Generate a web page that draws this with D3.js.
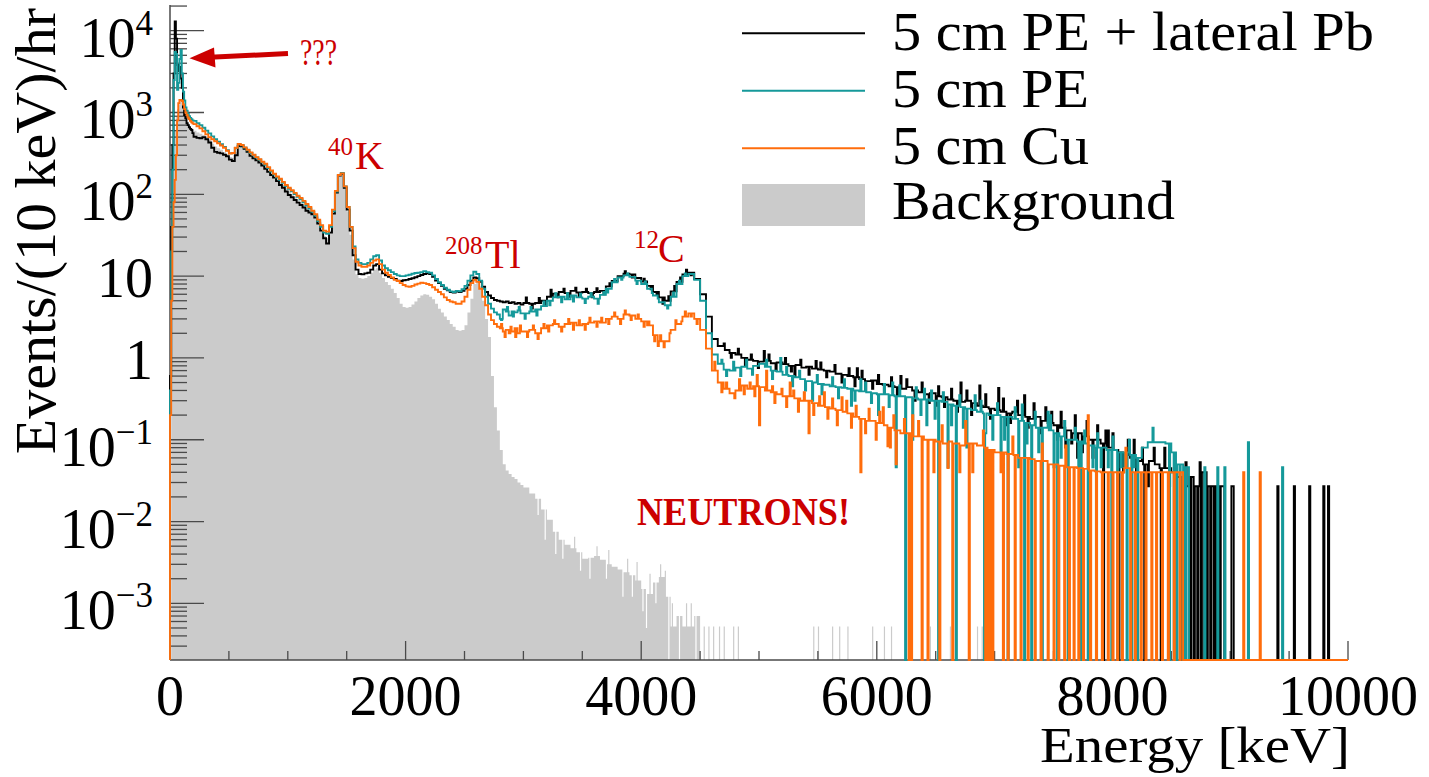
<!DOCTYPE html>
<html><head><meta charset="utf-8">
<script src="https://cdn.jsdelivr.net/npm/d3@7"></script>
<style>html,body{margin:0;padding:0;background:#fff}svg{display:block}</style>
</head><body>
<svg id="c" width="1429" height="777"></svg>
<script>
// ---------------- DATA (events / (10 keV) / hr) ----------------
// low: 10 keV bins from 0 keV; mid: 25 keV bins from 200 keV; high: 50 keV bins from 3000 keV
// bins: single 10 keV bins [energy keV, value] (empty bins, isolated counts, bin-to-bin fluctuations)
const seriesNames = ["5 cm PE + lateral Pb", "5 cm PE", "5 cm Cu", "Background"];
const xTickLabels = ["0", "2000", "4000", "6000", "8000", "10000"];
const yTickValues = [1e4, 1e3, 1e2, 10, 1, 0.1, 0.01, 0.001];
const yTickLabels = [["10","4"],["10","3"],["10","2"],["10",""],["1",""],["10","\u22121"],["10","\u22122"],["10","\u22123"]];

const blackLow = [0.6,40,400,3000,13000,8000,3800,3200,3600,2600,2000,1150,930,850,740,700,660,630,610,560];
const blackMid = [505,490,485,500,470,430,370,330,322,316,305,292,265,255,300,390,385,360,330,295,275,260,245,225,
205,188,172,160,145,130,120,108,98,92,85,79,74,69,63,60,57,52,44,36,29,25,34,58,105,170,178,120,65,36,18,12,
10.6,10.5,10.8,11,12,13.5,14,12,10.8,10.2,9.8,9.5,9.2,8.8,8.7,8.9,9.0,9.2,9.4,9.7,10.0,10.3,10.6,10.8,10.6,9.8,8.8,8.2,7.6,7.0,6.7,6.4,
6.3,6.5,6.4,6.6,7.0,7.8,8.8,9.6,9.4,8.5,7.4,6.4,5.8,5.4,5.1,5.0,4.9,4.8,4.9,4.7,4.8,4.6,4.7,4.5];
const blackHigh = [4.7,4.6,4.7,5.0,5.6,6.1,6.4,6.2,6.6,6.3, 6.4,6.2,6.4,6.6,7.5,8.7,10.0,10.7,10.5,9.5,
8.6,7.6,6.4,5.5,5.0,6.5,8.5,10.5,11.0,9.2, 6.0,3.2,1.7,1.4,1.25,1.15,1.1,1.0,0.95,0.92,
0.9,0.92,0.86,0.88,0.84,0.8,0.82,0.76,0.78,0.74, 0.72,0.7,0.68,0.64,0.62,0.6,0.58,0.55,0.52,0.53,
0.48,0.47,0.45,0.44,0.42,0.44,0.4,0.38,0.36,0.37, 0.34,0.33,0.31,0.3,0.29,0.3,0.28,0.26,0.25,0.24,
0.23,0.22,0.21,0.22,0.2,0.19,0.18,0.19,0.17,0.16, 0.15,0.14,0.13,0.12,0.12,0.11,0.1,0.1,0.09,0.08,
0.075,0.07,0.065,0.06,0.055,0.05,0.055,0.05,0.045,0.045, 0.04,0.035,0.027,0.035,0.027,0.04,0.027,0.027,0.027,0,
0,0,0,0,0,0,0,0,0,0, 0,0,0,0,0,0,0,0,0,0];
const blackBins = [[3020,5.5],[3070,4.0],[3130,5.4],[3180,4.3],[3230,6.8],[3290,5.5],[3340,7.0],[3390,5.6],[3440,7.2],
[3470,5.6],[3530,7.0],[3580,5.5],[3620,7.1],[3680,6.0],[3730,8.2],[3860,11.5],[3920,9.6],[4020,9.3],[4080,6.9],[4130,5.9],
[4180,4.6],[4230,5.7],[4280,7.6],[4330,9.6],[4380,12.0],[4420,10.2],
[4700,1.5],[4760,1.0],[4820,1.3],[4880,0.8],[4930,1.1],[4990,0.75],[5040,1.22],[5080,1.1],[5140,0.7],[5220,1.0],[5270,0.68],
[5300,0.6],[5350,0.95],[5420,0.62],[5480,0.92],[5520,0.88],[5570,0.58],[5640,0.82],[5700,0.5],[5760,0.75],[5810,0.45],
[5830,0.75],[5870,0.7],[5900,0.4],[5960,0.42],[6010,0.62],[6060,0.38],[6120,0.58],[6170,0.35],[6200,0.6],[6250,0.55],
[6320,0.3],[6380,0.5],[6440,0.28],[6500,0.26],[6520,0.45],[6570,0.25],[6630,0.42],[6680,0.22],[6710,0.5],[6760,0.4],
[6800,0.2],[6870,0.46],[6920,0.36],[6960,0.18],[7030,0.43],[7070,0.32],[7100,0.15],[7130,0.16],[7190,0.3],[7250,0.35],
[7280,0.14],[7330,0.28],[7390,0.12],[7430,0.25],[7480,0.22],[7530,0.1],[7560,0.22],[7600,0.08],[7650,0.09],[7680,0.2],
[7700,0.06],[7740,0.07],[7780,0.17],[7830,0.06],[7870,0.15],[7920,0],[7940,0.13],[7960,0.13],[8000,0.12],[8050,0],
[8090,0.04],[8130,0.1],[8180,0.1],[8200,0],[8250,0.08],[8270,0],[8300,0.027],[8350,0.08],[8410,0],[8440,0.08],[8480,0.027],
[8530,0],[8580,0],[8620,0.053],[8660,0],[8690,0],[8720,0],[8740,0.053],[8750,0],[8780,0],[8800,0],[8830,0],[8860,0],
[8880,0],[8910,0],[9010,0.027],[9020,0.027],[9400,0.027],[9540,0.027],[9670,0.027],[9790,0.027],[9830,0.027]];

const tealLow = [0.4,20,200,2500,5500,5200,1900,2300,4500,5800,3000,1800,1400,1150,1050,960,900,860,830,800];
const tealMid = [790,740,700,650,600,555,510,470,440,410,380,345,318,320,368,410,398,372,345,320,300,282,264,246,
230,210,190,174,160,150,138,126,117,109,101,93,87,80,73,67,61,55,47,40,34,33,40,62,108,172,182,125,70,40,23,16,
14.5,14,14,14.5,16,17.5,18,15.5,13.5,12.5,11.8,11.2,10.6,10.2,10.0,10.0,10.2,10.4,10.7,10.9,11.0,11.2,11.5,11.2,
11.0,10.2,9.2,8.4,7.8,7.2,6.8,6.5,6.4,6.6,6.5,6.9,7.6,8.8,10.2,11.3,10.6,8.8,7.0,5.6,4.6,4.0,3.6,3.4,
3.0,3.9,3.7,3.3,3.7,3.6,3.8,3.5];
const tealHigh = [3.5,3.7,3.9,4.3,5.0,5.5,5.6,5.2,5.8,5.5, 5.3,5.6,5.3,5.9,7.0,8.4,9.6,10.2,9.8,8.8,
8.0,7.0,5.8,4.8,4.4,5.6,8.0,10.0,10.6,9.0, 5.0,2.0,1.1,0.85,0.72,0.7,0.76,0.78,0.74,0.8,
0.85,0.78,0.7,0.68,0.62,0.6,0.58,0.55,0.52,0.5, 0.48,0.47,0.45,0.44,0.43,0.42,0.4,0.39,0.38,0.37,
0.36,0.36,0.35,0.34,0.34,0.33,0.32,0.31,0.31,0.3, 0.3,0.29,0.27,0.26,0.25,0.24,0.23,0.22,0.21,0.2,
0.2,0.19,0.19,0.18,0.17,0.16,0.15,0.14,0.14,0.13, 0.12,0.11,0.1,0.1,0.095,0.09,0.085,0.08,0.08,0.075,
0.075,0.07,0.07,0.065,0.06,0.08,0.093,0.093,0.093,0.09, 0.07,0.05,0.046,0,0,0,0,0,0,0,
0,0,0,0,0,0,0,0,0,0, 0,0,0,0,0,0,0,0,0,0];
const tealBins = [[2810,2.9],[2860,4.2],[2910,3.2],[2960,4.2],[3010,3.0],[3060,4.2],[3110,3.3],[3170,4.9],[3220,4.4],
[3270,6.2],[3320,4.8],[3370,6.2],[3420,4.9],[3480,6.1],[3520,4.7],[3570,6.2],[3630,4.6],[3680,6.4],[3710,6.3],[3770,9.2],
[3830,9.0],[3880,10.8],[3960,8.0],[4030,8.6],[4090,6.2],[4140,5.3],[4220,4.0],[4270,6.3],[4320,8.8],[4370,10.8],
[4680,0.95],[4720,0.6],[4780,0.9],[4840,0.6],[4890,0.95],[4940,0.62],[5060,0.95],[5110,0.55],[5180,1.0],[5230,0.78],
[5280,0.45],[5340,0.7],[5390,0.4],[5450,0.3],[5490,0.62],[5530,0.36],[5620,0.58],[5670,0.32],[5720,0.55],[5780,0.26],
[5810,0.3],[5860,0.55],[5900,0.5],[5950,0.28],[6010,0.2],[6060,0.48],[6100,0.25],[6130,0.5],[6160,0.046],[6190,0.46],
[6240,0],[6300,0.1],[6330,0.44],[6370,0.2],[6400,0.42],[6420,0.15],[6460,0.4],[6490,0.18],[6520,0],[6560,0.38],
[6600,0.046],[6630,0.15],[6670,0],[6700,0.35],[6730,0.14],[6760,0.08],[6830,0.35],[6880,0.3],[6910,0],[6920,0.12],
[6980,0.1],[7020,0.28],[7050,0.07],[7080,0.1],[7110,0],[7170,0.25],[7200,0.046],[7230,0.27],[7250,0],[7270,0.09],
[7310,0],[7340,0.22],[7370,0.07],[7400,0],[7450,0.22],[7470,0.2],[7500,0.046],[7530,0],[7560,0.06],[7590,0.17],
[7620,0],[7680,0.14],[7710,0.046],[7730,0],[7760,0.13],[7790,0],[7830,0.046],[7860,0],[7870,0.12],[7900,0.046],
[7960,0.046],[7990,0],[8000,0.11],[8040,0],[8070,0.046],[8100,0.046],[8120,0],[8140,0.1],[8160,0],[8180,0.046],
[8210,0],[8340,0.14],[8480,0],[8520,0],[8540,0],[8570,0],[8600,0],[8620,0],[8780,0.046],[8890,0.046],[8950,0.046],
[9150,0.093],[9440,0.046]];

const orangeLow = [0.2,5,40,80,150,300,800,1300,1420,1420,1380,1250,1100,1000,930,870,830,790,760,740];
const orangeMid = [720,680,640,590,540,500,470,445,420,395,370,340,315,320,370,412,400,375,350,325,305,285,268,250,
236,215,195,178,165,155,142,130,120,112,104,96,90,83,76,70,63,57,49,42,36,35,42,65,110,172,180,125,70,40,22,15,
13.5,13,13,13.5,14.5,15.5,16,14,12,11,10.3,9.6,9.0,8.7,8.2,7.8,7.5,7.4,7.6,7.9,8.1,8.3,8.2,8.0,
7.8,7.3,6.8,6.4,6.0,5.5,5.1,4.9,4.8,4.6,4.6,4.9,5.6,6.8,8.2,9.0,8.5,7.0,5.6,4.4,3.4,2.9,2.6,2.4,
2.3,2.1,2.2,2.0,2.1,2.3,2.0,2.1];
const orangeHigh = [2.1,2.2,2.0,2.3,2.5,2.6,2.4,2.6,2.7,2.5, 2.6,2.7,2.8,2.7,3.0,3.2,3.0,3.4,3.3,3.0,
2.8,2.5,1.9,1.6,1.6,2.2,2.6,3.2,3.5,3.0, 2.2,1.3,0.7,0.5,0.42,0.37,0.4,0.46,0.42,0.45,
0.44,0.4,0.38,0.36,0.34,0.34,0.32,0.3,0.3,0.28, 0.26,0.25,0.24,0.23,0.22,0.21,0.19,0.18,0.17,0.17,
0.16,0.15,0.14,0.13,0.12,0.12,0.11,0.11,0.1,0.1, 0.095,0.09,0.095,0.09,0.085,0.09,0.09,0.085,0.08,0.075,
0.07,0.07,0.067,0.065,0.06,0.06,0.058,0.055,0.055,0.05, 0.05,0.048,0.046,0.046,0.045,0.044,0.042,0.041,0.04,0.04,
0.04,0.04,0.045,0.04,0.04,0.04,0.04,0.04,0.04,0.04, 0.04,0.04,0,0,0,0,0,0,0,0,
0,0,0,0,0,0,0,0,0,0, 0,0,0,0,0,0,0,0,0,0];
const orangeBins = [[2810,2.6],[2840,1.8],[2890,2.4],[2930,1.8],[2970,2.5],[3030,1.8],[3080,2.5],[3120,1.7],[3170,2.6],
[3210,2.1],[3260,2.9],[3320,2.1],[3380,3.0],[3420,2.2],[3470,2.9],[3520,2.2],[3560,3.1],[3620,2.4],[3660,3.1],[3720,2.6],
[3770,3.6],[3820,2.6],[3860,3.8],[3910,2.9],[3970,3.4],[4020,2.4],[4060,2.8],[4110,1.6],[4140,1.4],[4160,1.9],[4190,1.35],
[4240,2.0],[4290,2.9],[4340,2.8],[4370,3.7],[4420,3.2],[4470,2.6],
[4620,0.9],[4680,0.38],[4720,0.5],[4790,0.32],[4830,0.55],[4870,0.36],[4920,0.5],[4960,0.34],[4980,0.62],[5000,0.15],
[5060,0.7],[5110,0.45],[5130,0.28],[5190,0.42],[5230,0.25],[5260,0.5],[5290,0.4],[5330,0.22],[5380,0.38],[5420,0.12],
[5460,0.2],[5510,0.34],[5550,0.38],[5580,0.18],[5620,0.32],[5660,0.15],[5700,0.33],[5740,0.3],[5780,0.14],[5820,0.26],
[5860,0.04],[5900,0.12],[5930,0.24],[5990,0.1],[6020,0.22],[6050,0.25],[6090,0.083],[6110,0.08],[6140,0.2],[6160,0.05],
[6230,0.18],[6270,0],[6290,0],[6300,0.2],[6350,0.17],[6380,0],[6430,0],[6480,0.04],[6530,0],
[6550,0.15],[6600,0.045],[6640,0],[6700,0.04],[6750,0.17],[6780,0],[6810,0.04],
[6900,0.13],[6920,0],[6940,0],[6960,0],[6980,0],[7050,0.04],[7070,0],[7110,0],[7150,0.11],
[7170,0],[7220,0],[7280,0],[7340,0],[7390,0],[7400,0.09],[7450,0],[7500,0],[7540,0],[7590,0],[7600,0.085],[7630,0],
[7670,0],[7710,0],[7750,0],[7790,0.2],[7810,0],[7860,0],[7910,0],[7960,0],[8000,0],[8040,0],[8080,0],[8110,0.08],
[8150,0],[8190,0],[8240,0],[8280,0],[8330,0],[8370,0],[8420,0],[8470,0],[8520,0],[8570,0],[9110,0.04],[9250,0.04]];

const grayLow = [0,10,80,300,600,900,1100,1250,1350,1400,1350,1200,1000,880,800,740,700,660,640,610];
const grayMid = [600,570,550,530,500,460,415,385,365,350,330,310,285,280,330,395,390,365,337,308,288,270,254,236,
218,200,182,168,154,142,130,118,108,100,93,86,80,74,68,64,59,53,45,37,31,29,36,60,106,170,178,120,62,32,16,10.5,
9.5,9.3,9.5,10,11,12,12.5,11,9.5,8.5,7.8,7.0,6.2,5.4,4.6,4.2,4.1,4.2,4.5,4.9,5.4,5.8,6.0,5.9,
5.6,5.2,4.6,4.0,3.6,3.2,2.9,2.6,2.4,2.2,2.15,2.2,2.5,3.6,5.3,8.0,9.2,7.5,5.0,3.0,1.8,0.6,0.25,0.13,
0.075,0.05,0.042,0.038,0.035,0.033,0.03,0.028];
const grayHigh = [0.026,0.022,0.019,0.014,0.0105,0.0075,0.006,0.0052,0.0047,0.0042,
0.0035,0.0036,0.0038,0.0034,0.003,0.0028,0.0026,0.0024,0.0022,0.0019,
0.0015,0.0013,0.0018,0.0021,0.0012,0.00052,0.0007,0.00052,0.00052,0.0007,
0,0,0,0,0,0,0,0,0,0, 0,0,0,0,0,0,0,0,0,0, 0,0,0,0,0,0,0,0,0,0, 0,0,0,0,0,0,0,0,0,0,
0,0,0,0,0,0,0,0,0,0, 0,0,0,0,0,0,0,0,0,0, 0,0,0,0,0,0,0,0,0,0, 0,0,0,0,0,0,0,0,0,0,
0,0,0,0,0,0,0,0,0,0, 0,0,0,0,0,0,0,0,0,0, 0,0,0,0,0,0,0,0,0,0];
const grayBins = [[3120,0.012],[3180,0.006],[3270,0.004],[3330,0.0035],[3430,0.0065],[3480,0.0025],[3560,0.002],
[3620,0.005],[3700,0.002],[3720,0.0045],[3840,0.0012],[3880,0.0035],[3920,0.0012],[3960,0.0032],[4010,0.0008],
[4040,0.0005],[4070,0.0023],[4120,0.001],[4160,0.003],[4200,0.0025],[4230,0],[4260,0.001],[4320,0],[4380,0.001],
[4420,0.001],[4460,0],[4530,0.00052],[4570,0.00052],[4610,0.00052],[4660,0.00052],[4700,0.00052],[4780,0.00052],
[4820,0.00052],[5460,0.00052],[5500,0.00052],[5620,0.00052],[5680,0.00052],[5750,0.00052],[5960,0.00052],[6060,0.00052],
[6120,0.00052],[6450,0.00052],[6620,0.00052],[6850,0.00052],[6890,0.00052],[7070,0.00052]];

// ---------------- CHART ----------------
const svg = d3.select("#c");
const x = d3.scaleLinear().domain([0, 10000]).range([170, 1348]);
const yMin = 2.03e-4, yMax = 2.06e4;
const y = d3.scaleLog().domain([yMin, yMax]).range([660, 5]);
const y0 = y(yMin);
const yv = d => (d > 0 ? y(Math.max(d, yMin)) : y0);

function expand(low, mid, high, bins) {
  const cell = 5, n = 10000 / cell;
  const v = new Array(n).fill(0);
  const put = (start, width, arr) => arr.forEach((d, i) => {
    const a = (start + i * width) / cell;
    for (let k = 0; k < width / cell; k++) if (a + k < n) v[a + k] = d;
  });
  put(0, 10, low); put(200, 25, mid); put(3000, 50, high);
  bins.forEach(([e, d]) => { const a = e / cell; v[a] = d; if (a + 1 < n) v[a + 1] = d; });
  const pts = [];
  v.forEach((d, i) => { if (!pts.length || pts[pts.length - 1].v !== d) pts.push({ e: i * cell, v: d }); });
  return pts;
}

const serif = "'Liberation Serif','Times New Roman',serif";
const colors = { black: "#000000", teal: "#15999a", orange: "#ff6d0c", gray: "#cbcbcb", red: "#cc0000" };

// background (filled)
const gPts = expand(grayLow, grayMid, grayHigh, grayBins);
const gArea = d3.area().curve(d3.curveStepAfter).x(d => x(d.e)).y0(y0).y1(d => yv(d.v));
svg.append("path").attr("d", gArea([...gPts, { e: 10000, v: gPts[gPts.length - 1].v }]))
  .attr("fill", colors.gray).attr("stroke", "none");

// axes
const axisG = svg.append("g").attr("stroke", "#4a4a4a");
axisG.append("line").attr("x1", 170).attr("x2", 170).attr("y1", 5).attr("y2", y0).attr("stroke-width", 1.5);
axisG.append("line").attr("x1", 170).attr("x2", 1348).attr("y1", y0).attr("y2", y0).attr("stroke-width", 1.5);
for (let k = -4; k <= 4; k++) {
  for (let m = 1; m <= 9; m++) {
    const val = m * Math.pow(10, k);
    if (val < yMin || val > yMax) continue;
    const yy = y(val);
    axisG.append("line").attr("x1", 170).attr("x2", 170 + (m === 1 ? 34 : 17))
      .attr("y1", yy).attr("y2", yy).attr("stroke-width", 1.3);
  }
}
for (let e = 0; e <= 10000; e += 500) {
  const xx = x(e), major = e % 2000 === 0;
  axisG.append("line").attr("x1", xx).attr("x2", xx).attr("y1", y0).attr("y2", y0 - (major ? 19 : 9)).attr("stroke-width", 1.3);
}

// lines
const line = d3.line().curve(d3.curveStepAfter).x(d => x(d.e)).y(d => (d.v === null ? y0 : yv(d.v)));
[[blackLow, blackMid, blackHigh, blackBins, colors.black],
 [tealLow, tealMid, tealHigh, tealBins, colors.teal],
 [orangeLow, orangeMid, orangeHigh, orangeBins, colors.orange]].forEach(([lo, mi, hi, bi, col]) => {
  const p = expand(lo, mi, hi, bi);
  const pts = [{ e: 0, v: null }, ...p, { e: 10000, v: p[p.length - 1].v }, { e: 10000, v: null }];
  svg.append("path").attr("d", line(pts)).attr("fill", "none").attr("stroke", col).attr("stroke-width", 1.9);
});

// tick labels
xTickLabels.forEach((t, i) => {
  svg.append("text").attr("x", x(i * 2000)).attr("y", 715).attr("text-anchor", "middle")
    .attr("font-family", serif).attr("font-size", 56).text(t);
});
yTickValues.forEach((v, i) => {
  const [base, sup] = yTickLabels[i];
  const t = svg.append("text").attr("x", 153).attr("text-anchor", "end")
    .attr("font-family", serif).attr("font-size", 56);
  if (sup) {
    t.attr("y", y(v) + 26);
    t.append("tspan").text(base);
    t.append("tspan").attr("dy", -22).attr("font-size", 35).text(sup);
  } else {
    t.attr("y", y(v) + 21).text(base);
  }
});

// axis titles
svg.append("text").attr("transform", "translate(55,8) rotate(-90)").attr("text-anchor", "end")
  .attr("font-family", serif).attr("font-size", 58).text("Events/(10 keV)/hr");
svg.append("text").attr("x", 1350).attr("y", 762).attr("text-anchor", "end")
  .attr("font-family", serif).attr("font-size", 51).attr("textLength", 310).attr("lengthAdjust", "spacingAndGlyphs")
  .text("Energy [keV]");

// legend
const legY = [33.3, 90.7, 148.3];
const legBase = [50, 107, 164, 219];
const legW = [482, 197, 197, 283];
const legCol = [colors.black, colors.teal, colors.orange, colors.gray];
seriesNames.forEach((n, i) => {
  if (i < 3) svg.append("line").attr("x1", 742).attr("x2", 865).attr("y1", legY[i]).attr("y2", legY[i])
    .attr("stroke", legCol[i]).attr("stroke-width", 2);
  else svg.append("rect").attr("x", 742).attr("y", 184).attr("width", 123).attr("height", 42).attr("fill", legCol[i]);
  svg.append("text").attr("x", 892).attr("y", legBase[i]).attr("font-family", serif).attr("font-size", 55)
    .attr("textLength", legW[i]).attr("lengthAdjust", "spacingAndGlyphs").text(n);
});

// annotations
const red = colors.red;
svg.append("line").attr("x1", 288).attr("y1", 53.5).attr("x2", 210).attr("y2", 57.3)
  .attr("stroke", red).attr("stroke-width", 5);
svg.append("path").attr("d", "M189.5,58.3L214,47.5L215.5,67.5Z").attr("fill", red);
svg.append("text").attr("x", 300).attr("y", 65).attr("font-family", serif).attr("font-size", 37)
  .attr("fill", red).attr("textLength", 37).attr("lengthAdjust", "spacingAndGlyphs").text("???");
function iso(xs, mass, sym, xb, yb) {
  svg.append("text").attr("x", xs).attr("y", yb - 14).attr("font-family", serif).attr("font-size", 25).attr("fill", red).text(mass);
  svg.append("text").attr("x", xb).attr("y", yb).attr("font-family", serif).attr("font-size", 40).attr("fill", red).text(sym);
}
iso(328, "40", "K", 355, 169);
iso(445, "208", "Tl", 485, 268);
iso(634, "12", "C", 658, 262);
svg.append("text").attr("x", 637).attr("y", 525).attr("font-family", serif).attr("font-weight", "bold")
  .attr("font-size", 41).attr("fill", red).attr("textLength", 213).attr("lengthAdjust", "spacingAndGlyphs").text("NEUTRONS!");
</script>
</body></html>
